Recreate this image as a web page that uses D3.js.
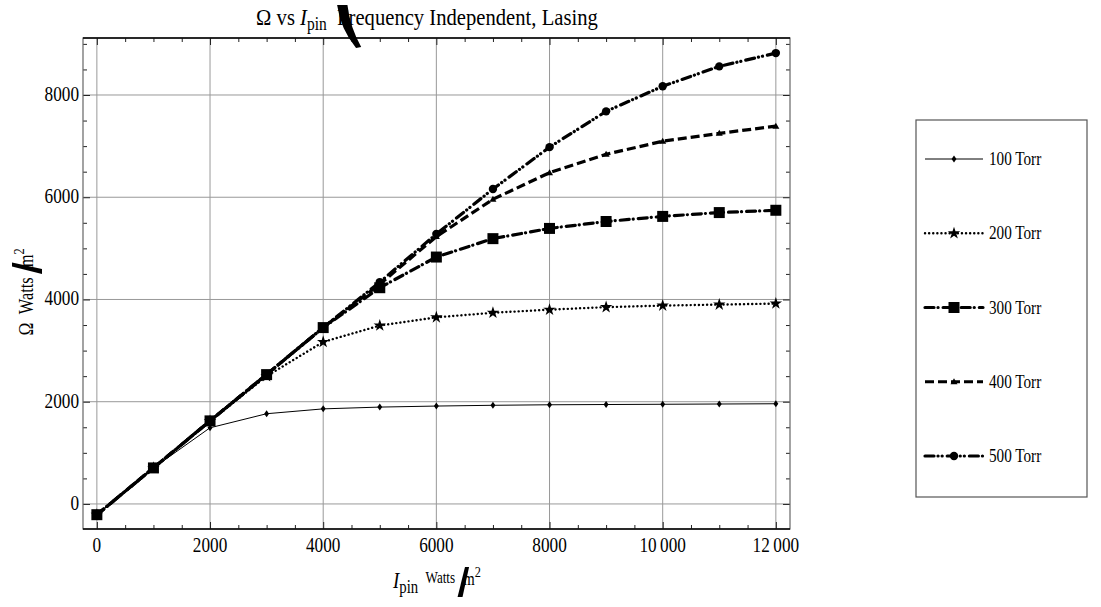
<!DOCTYPE html>
<html>
<head>
<meta charset="utf-8">
<script src="https://cdn.jsdelivr.net/npm/d3@7"></script>
<style>
  body { margin: 0; background: #fff; }
  text { font-family: "Liberation Serif", "DejaVu Serif", serif; fill: #000; }
</style>
</head>
<body>
<svg id="chart" width="1101" height="607"></svg>
<script>
// data
var intensity = [0, 1000, 2000, 3000, 4000, 5000, 6000, 7000, 8000, 9000, 10000, 11000, 12000];
var torr100 = [-210, 705, 1490, 1765, 1860, 1895, 1915, 1930, 1940, 1945, 1950, 1955, 1960];
var torr200 = [-210, 705, 1620, 2500, 3170, 3490, 3650, 3740, 3800, 3850, 3880, 3900, 3920];
var torr300 = [-210, 705, 1625, 2530, 3450, 4230, 4830, 5190, 5390, 5525, 5625, 5700, 5745];
var torr400 = [-210, 705, 1625, 2535, 3450, 4300, 5230, 5960, 6480, 6840, 7095, 7250, 7390];
var torr500 = [-210, 705, 1625, 2535, 3450, 4340, 5280, 6160, 6980, 7680, 8170, 8560, 8820];
var seriesNames = ['100 Torr', '200 Torr', '300 Torr', '400 Torr', '500 Torr'];
var xTicks = [0, 2000, 4000, 6000, 8000, 10000, 12000];
var xTickLabels = ['0', '2000', '4000', '6000', '8000', '10\u2009000', '12\u2009000'];
var yTicks = [0, 2000, 4000, 6000, 8000];

var svg = d3.select('#chart');

// plot frame (don't call it "top", that's window.top)
var plotL = 83, plotR = 790, plotT = 38, plotB = 529;

var xScale = d3.scaleLinear().domain([-245, 12250]).range([plotL, plotR]);
var yScale = d3.scaleLinear().domain([-490, 9115]).range([plotB, plotT]);

// line styles per series
var styles = [
    {width: 1, dash: null, marker: 'diamond', size: 3.5},
    {width: 2.4, dash: '0.1,4', cap: 'round', marker: 'star', size: 4},
    {width: 3.2, dash: '9,4,0.1,5', cap: 'round', marker: 'square', size: 5.5},
    {width: 3.2, dash: '9,4', marker: 'triangle', size: 3.5},
    {width: 3.2, dash: '9,4,0.1,4,0.1,5', cap: 'round', marker: 'circle', size: 4.2}
];
var allSeries = [torr100, torr200, torr300, torr400, torr500];

// condensed text helper
function ctext(g, x, y, str, size, anchor, sx) {
    return g.append('text')
        .attr('transform', 'translate(' + x + ',' + y + ') scale(' + (sx || 0.8) + ',1)')
        .attr('text-anchor', anchor || 'middle')
        .style('font-size', size + 'px')
        .text(str);
}

// lays out pieces one after another, centred on x, condensed by sx
// piece: {t: text, size, dy, italic} or {shape: 'slash'|'paren'}
function richText(x, y, pieces, rot, sx) {
    var outer = svg.append('g')
        .attr('transform', 'translate(' + x + ',' + y + ') rotate(' + (rot || 0) + ')');
    var inner = outer.append('g');
    var cx = 0;
    pieces.forEach(function(p) {
        if (p.shape == 'slash') {
            inner.append('path')
                .attr('d', 'M' + (cx - 1) + ',9 L' + (cx + 5) + ',9 L' + (cx + 13) + ',-21 L' + (cx + 8) + ',-21 Z')
                .attr('fill', '#000');
            cx += p.w;
        } else if (p.shape == 'paren') {
            inner.append('path')
                .attr('d', 'M' + cx + ',-20 L' + (cx + 12) + ',-20 Q' + (cx + 15) + ',2 ' + (cx + 28) + ',22'
                    + ' L' + (cx + 22) + ',23 Q' + (cx + 4) + ',4 ' + cx + ',-20 Z')
                .attr('fill', '#000');
            cx += p.w;
        } else {
            var t = inner.append('text')
                .attr('x', cx).attr('y', p.dy || 0)
                .style('font-size', p.size + 'px')
                .style('font-style', p.italic ? 'italic' : 'normal')
                .style('white-space', 'pre')
                .text(p.t);
            cx += t.node().getComputedTextLength();
        }
    });
    inner.attr('transform', 'scale(' + sx + ',1) translate(' + (-cx / 2) + ',0)');
    // the blob/slash shapes sit over the text
    inner.selectAll('path').raise();
    return outer;
}

// grid
var grid = svg.append('g');
grid.selectAll('.vg').data(xTicks).enter().append('line')
    .attr('x1', d => xScale(d)).attr('x2', d => xScale(d))
    .attr('y1', plotT).attr('y2', plotB)
    .attr('stroke', '#999').attr('stroke-width', 1);
grid.selectAll('.hg').data(yTicks).enter().append('line')
    .attr('x1', plotL).attr('x2', plotR)
    .attr('y1', d => yScale(d)).attr('y2', d => yScale(d))
    .attr('stroke', '#999').attr('stroke-width', 1);

// frame with inward ticks on every side
var xMinor = d3.range(0, 12001, 500).filter(d => d % 2000 != 0);
var yMinor = d3.range(0, 9001, 500).filter(d => d % 2000 != 0);

var axisBottom = d3.axisBottom(xScale).tickValues(xTicks).tickSize(-7).tickFormat('');
var axisTop = d3.axisTop(xScale).tickValues(xTicks).tickSize(-7).tickFormat('');
var axisLeft = d3.axisLeft(yScale).tickValues(yTicks).tickSize(-7).tickFormat('');
var axisRight = d3.axisRight(yScale).tickValues(yTicks).tickSize(-7).tickFormat('');
var mBottom = d3.axisBottom(xScale).tickValues(xMinor).tickSize(-4).tickFormat('');
var mTop = d3.axisTop(xScale).tickValues(xMinor).tickSize(-4).tickFormat('');
var mLeft = d3.axisLeft(yScale).tickValues(yMinor).tickSize(-4).tickFormat('');
var mRight = d3.axisRight(yScale).tickValues(yMinor).tickSize(-4).tickFormat('');

[[axisBottom, 0, plotB], [mBottom, 0, plotB], [axisTop, 0, plotT], [mTop, 0, plotT],
 [axisLeft, plotL, 0], [mLeft, plotL, 0], [axisRight, plotR, 0], [mRight, plotR, 0]].forEach(function(a) {
    var g = svg.append('g')
        .attr('transform', 'translate(' + a[1] + ',' + a[2] + ')')
        .call(a[0]);
    g.selectAll('.domain').remove();
    g.selectAll('line').attr('stroke', '#222').attr('stroke-width', 1);
});

svg.append('rect')
    .attr('x', plotL).attr('y', plotT)
    .attr('width', plotR - plotL).attr('height', plotB - plotT)
    .attr('fill', 'none').attr('stroke', '#666').attr('stroke-width', 1.2);
svg.append('line').attr('x1', plotL).attr('x2', plotR).attr('y1', plotT).attr('y2', plotT)
    .attr('stroke', '#000').attr('stroke-width', 1.5);
svg.append('line').attr('x1', plotL).attr('x2', plotR).attr('y1', plotB).attr('y2', plotB)
    .attr('stroke', '#000').attr('stroke-width', 1.5);

// tick labels
var labels = svg.append('g');
xTicks.forEach(function(t, i) {
    ctext(labels, xScale(t), plotB + 23, xTickLabels[i], 21, 'middle', 0.82);
});
yTicks.forEach(function(t) {
    ctext(labels, plotL - 4, yScale(t) + 6, String(t), 21, 'end', 0.82);
});

// series lines
var line = d3.line()
    .x((d, i) => xScale(intensity[i]))
    .y(d => yScale(d));

var plot = svg.append('g');
allSeries.forEach(function(s, k) {
    var st = styles[k];
    plot.append('path')
        .datum(s)
        .attr('d', line)
        .attr('fill', 'none')
        .attr('stroke', '#000')
        .attr('stroke-width', st.width)
        .attr('stroke-dasharray', st.dash)
        .attr('stroke-linecap', st.cap || 'butt');
});

function markerPath(type, r) {
    if (type == 'diamond') return 'M0,' + (-r) + 'L' + (r * 0.7) + ',0L0,' + r + 'L' + (-r * 0.7) + ',0Z';
    if (type == 'square') return d3.symbol(d3.symbolSquare, (2 * r) * (2 * r))();
    if (type == 'triangle') return 'M0,' + (-r) + 'L' + r + ',' + (r * 0.7) + 'L' + (-r) + ',' + (r * 0.7) + 'Z';
    if (type == 'star') return d3.symbol(d3.symbolStar, r * r * 3)();
    return d3.symbol(d3.symbolCircle, Math.PI * r * r)();
}

allSeries.forEach(function(s, k) {
    var st = styles[k];
    plot.selectAll('.m' + k).data(s).enter().append('path')
        .attr('transform', (d, i) => 'translate(' + xScale(intensity[i]) + ',' + yScale(d) + ')')
        .attr('d', markerPath(st.marker, st.size))
        .attr('fill', '#000');
});

// title (the opening bracket comes out as a black blob in the original)
richText(427, 25, [
    {t: '\u03A9 vs ', size: 24},
    {t: 'I', size: 24, italic: true},
    {t: 'pin', size: 18, dy: 5},
    {t: '  ', size: 24},
    {shape: 'paren', w: 0},
    {t: 'Frequency Independent, Lasing', size: 24}
], 0, 0.86);

// y axis title
richText(33, 292, [
    {t: '\u03A9  ', size: 21},
    {t: 'Watts ', size: 20},
    {shape: 'slash', w: 7},
    {t: 'm', size: 20},
    {t: '2', size: 15, dy: -9}
], -90, 0.82);

// x axis title
richText(437, 588, [
    {t: 'I', size: 23, italic: true},
    {t: 'pin', size: 18, dy: 5},
    {t: '  ', size: 18},
    {t: 'Watts ', size: 16, dy: -5},
    {shape: 'slash', w: 6},
    {t: 'm', size: 18, dy: -3},
    {t: '2', size: 15, dy: -11}
], 0, 0.82);

// legend
var legX = 916, legY = 120, legW = 171, legH = 377;
var legend = svg.append('g');
legend.append('rect')
    .attr('x', legX).attr('y', legY).attr('width', legW).attr('height', legH)
    .attr('fill', '#fff').attr('stroke', '#555').attr('stroke-width', 1.2);

var legScale = d3.scalePoint().domain(seriesNames).range([legY + 39, legY + 336]);
seriesNames.forEach(function(name, k) {
    var st = styles[k];
    var y = legScale(name);
    legend.append('line')
        .attr('x1', legX + 9).attr('x2', legX + 67)
        .attr('y1', y).attr('y2', y)
        .attr('stroke', '#000')
        .attr('stroke-width', st.width)
        .attr('stroke-dasharray', st.dash)
        .attr('stroke-linecap', st.cap || 'butt');
    legend.append('path')
        .attr('transform', 'translate(' + (legX + 38) + ',' + y + ')')
        .attr('d', markerPath(st.marker, st.size))
        .attr('fill', '#000');
    ctext(legend, legX + 73, y + 6, name, 19, 'start', 0.8);
});
</script>
</body>
</html>
